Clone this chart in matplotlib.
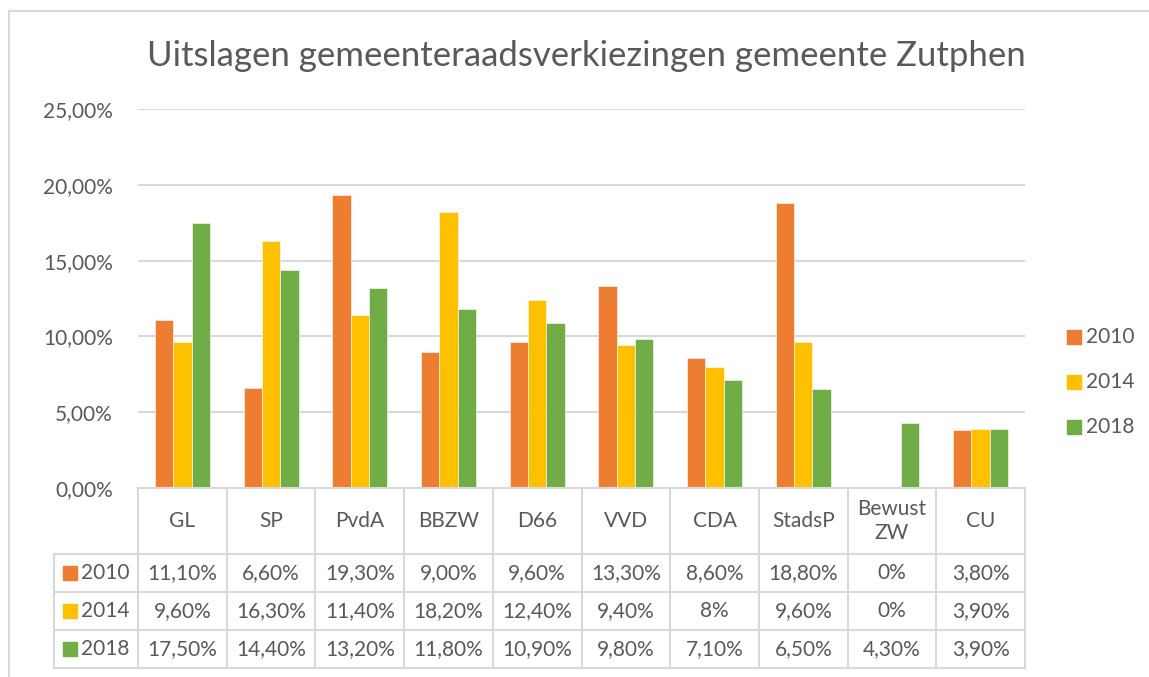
import matplotlib
matplotlib.use("Agg")
import matplotlib.pyplot as plt
from matplotlib.lines import Line2D
from matplotlib.patches import Rectangle
import numpy as np

plt.rcParams['font.family'] = ['Lato', 'DejaVu Sans']

# ---- data ----
categories = ['GL', 'SP', 'PvdA', 'BBZW', 'D66', 'VVD', 'CDA', 'StadsP', 'Bewust\nZW', 'CU']
years = ['2010', '2014', '2018']
v2010 = [11.1, 6.6, 19.3, 9.0, 9.6, 13.3, 8.6, 18.8, 0.0, 3.8]
v2014 = [9.6, 16.3, 11.4, 18.2, 12.4, 9.4, 8.0, 9.6, 0.0, 3.9]
v2018 = [17.5, 14.4, 13.2, 11.8, 10.9, 9.8, 7.1, 6.5, 4.3, 3.9]
t2010 = ['11,10%', '6,60%', '19,30%', '9,00%', '9,60%', '13,30%', '8,60%', '18,80%', '0%', '3,80%']
t2014 = ['9,60%', '16,30%', '11,40%', '18,20%', '12,40%', '9,40%', '8%', '9,60%', '0%', '3,90%']
t2018 = ['17,50%', '14,40%', '13,20%', '11,80%', '10,90%', '9,80%', '7,10%', '6,50%', '4,30%', '3,90%']
yticks = [0, 5, 10, 15, 20, 25]
ytick_labels = ['0,00%', '5,00%', '10,00%', '15,00%', '20,00%', '25,00%']
title = 'Uitslagen gemeenteraadsverkiezingen gemeente Zutphen'

series = [v2010, v2014, v2018]
tables = [t2010, t2014, t2018]
colors = ['#ED7D31', '#FFC000', '#70AD47']
TXT = '#595959'
GRID = '#D9D9D9'
FS = 15

W, H = 1149, 677
fig = plt.figure(figsize=(W / 100, H / 100), dpi=100)

def fx(x):
    return x / W

def fy(y):
    return 1 - y / H

# plot area in pixels
L, R, T, B = 138, 1025, 109, 488
ax = fig.add_axes([fx(L), fy(B), fx(R) - fx(L), fy(T) - fy(B)])
n = len(categories)
x = np.arange(n)
bw = 0.207
for i, (vals, c) in enumerate(zip(series, colors)):
    ax.bar(x + (i - 1) * bw, vals, width=bw, color=c, edgecolor='white', linewidth=0.4, zorder=3)
ax.set_xlim(-0.5, n - 0.5)
ax.set_ylim(0, 25)
ax.set_yticks(yticks)
ax.set_yticklabels(ytick_labels, fontsize=FS, color=TXT)
ax.tick_params(axis='y', length=0, pad=18)
ax.set_xticks([])
ax.yaxis.grid(True, color=GRID, linewidth=1.5, zorder=0)
for s in ax.spines.values():
    s.set_visible(False)

# title
fig.text(fx(586), fy(56), title, ha='center', va='center', fontsize=25, color=TXT)

# chart border (left and top)
fig.add_artist(Line2D([fx(8.5), fx(8.5)], [fy(11), fy(H)], color=GRID, linewidth=1.5))
fig.add_artist(Line2D([fx(8.5), fx(W)], [fy(11), fy(11)], color=GRID, linewidth=1.5))

# ---- data table ----
colw = (R - L) / n
hdr_top, hdr_bot = 488, 554
row_h = 38
tab_left = 54
tab_bot = hdr_bot + row_h * len(years)
lw = 1.5

def hline(x0, x1, y):
    fig.add_artist(Line2D([fx(x0), fx(x1)], [fy(y), fy(y)], color=GRID, linewidth=lw))

def vline(xx, y0, y1):
    fig.add_artist(Line2D([fx(xx), fx(xx)], [fy(y0), fy(y1)], color=GRID, linewidth=lw))

hline(L, R, hdr_top)
for k in range(len(years) + 1):
    hline(tab_left, R, hdr_bot + k * row_h)
for j in range(n + 1):
    vline(L + j * colw, hdr_top, tab_bot)
vline(tab_left, hdr_bot, tab_bot)

for j, cat in enumerate(categories):
    fig.text(fx(L + (j + 0.5) * colw), fy((hdr_top + hdr_bot) / 2), cat,
             ha='center', va='center', fontsize=FS, color=TXT, linespacing=1.3)

for r, (yr, tv, c) in enumerate(zip(years, tables, colors)):
    yc = hdr_bot + (r + 0.5) * row_h
    fig.add_artist(Rectangle((fx(63), fy(yc + 7)), fx(14), 14 / H, color=c))
    fig.text(fx(81), fy(yc), yr, ha='left', va='center', fontsize=FS, color=TXT)
    for j, t in enumerate(tv):
        fig.text(fx(L + (j + 0.5) * colw), fy(yc), t, ha='center', va='center',
                 fontsize=FS, color=TXT)

# ---- right legend ----
for yr, c, yc in zip(years, colors, [337, 382, 427]):
    fig.add_artist(Rectangle((fx(1067), fy(yc + 7)), fx(14), 14 / H, color=c))
    fig.text(fx(1086), fy(yc), yr, ha='left', va='center', fontsize=FS, color=TXT)

fig.savefig('out.png', dpi=100)
